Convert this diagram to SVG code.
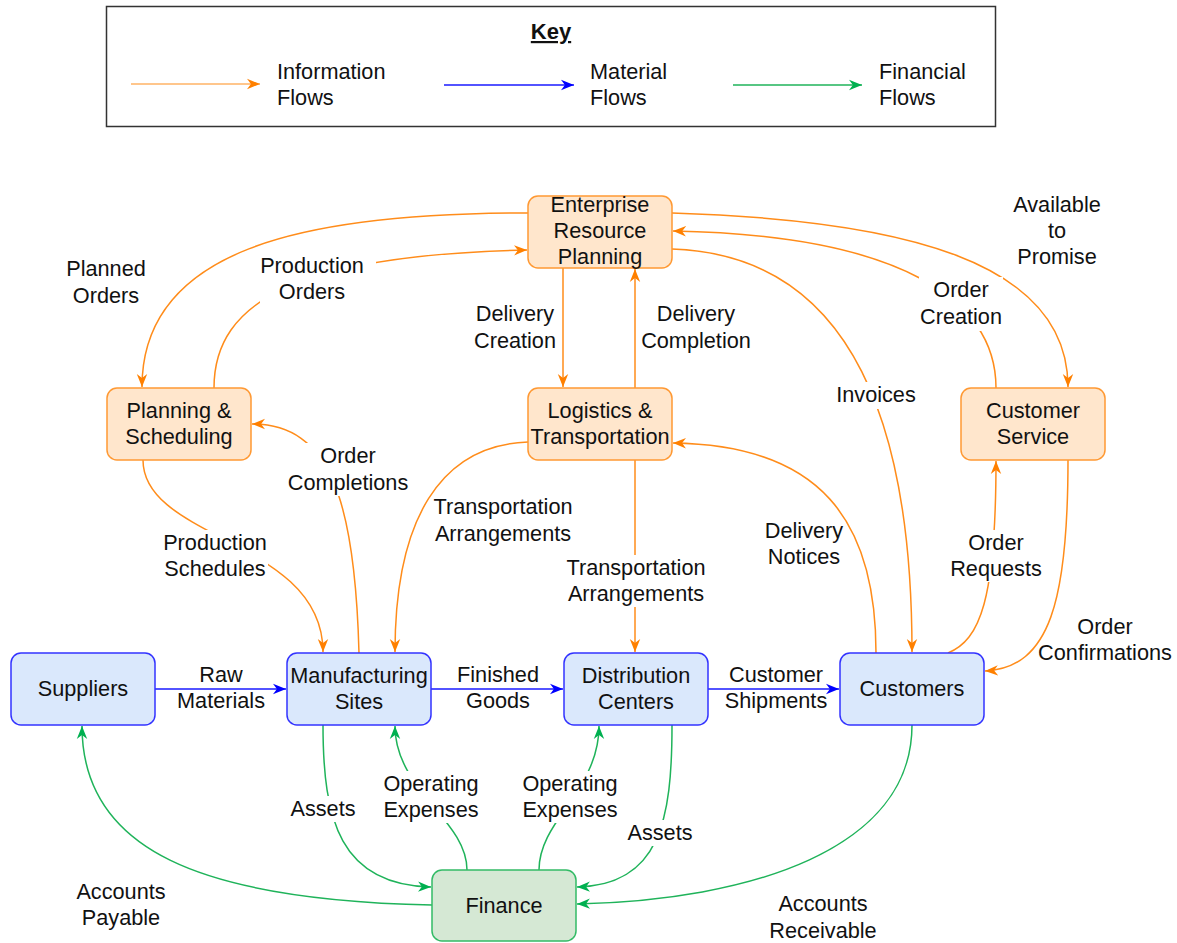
<svg xmlns="http://www.w3.org/2000/svg" width="1177" height="943" viewBox="0 0 1177 943">
  <style>
    text { font-family: "Liberation Sans", Arial, sans-serif; font-size: 21.7px; fill: #111; text-anchor: middle; }
    .lt { text-anchor: start; }
    .key { font-weight: bold; text-decoration: underline; font-size: 22px; }
    .node rect { stroke-width: 1.5; }
    .info rect { fill: #ffe6cc; stroke: #ff9933; }
    .mat rect { fill: #dae8fc; stroke: #3333ff; }
    .fin rect { fill: #d5e8d4; stroke: #33bb66; }
    .e { fill: none; stroke-width: 1.5; }
    .eo { stroke: #ff8c1a; marker-end: url(#ao); }
    .eb { stroke: #1a1aff; marker-end: url(#ab); }
    .eg { stroke: #1fb35a; marker-end: url(#ag); }
    .bg { fill: #fff; }
  </style>
  <defs>
    <marker id="ao" viewBox="0 0 10 10" refX="10" refY="5" markerWidth="13" markerHeight="13" markerUnits="userSpaceOnUse" orient="auto">
      <path d="M0,1 L10,5 L0,9 L3,5 z" fill="#ff8000"/>
    </marker>
    <marker id="ab" viewBox="0 0 10 10" refX="10" refY="5" markerWidth="13" markerHeight="13" markerUnits="userSpaceOnUse" orient="auto">
      <path d="M0,1 L10,5 L0,9 L3,5 z" fill="#0000ff"/>
    </marker>
    <marker id="ag" viewBox="0 0 10 10" refX="10" refY="5" markerWidth="13" markerHeight="13" markerUnits="userSpaceOnUse" orient="auto">
      <path d="M0,1 L10,5 L0,9 L3,5 z" fill="#00b050"/>
    </marker>
  </defs>

  <rect width="1177" height="943" fill="#fff"/>

  <!-- Legend -->
  <g id="legend">
    <rect x="106.5" y="6.5" width="889" height="120" fill="#fff" stroke="#333" stroke-width="1.5"/>
    <text class="key" x="551" y="39">Key</text>
    <line class="e" x1="131" y1="84" x2="260" y2="84" stroke="#ffb366" marker-end="url(#ao)"/>
    <text class="lt" x="277" y="79">Information</text>
    <text class="lt" x="277" y="105">Flows</text>
    <line class="e" x1="444" y1="85" x2="574" y2="85" stroke="#1a1aff" marker-end="url(#ab)"/>
    <text class="lt" x="590" y="79">Material</text>
    <text class="lt" x="590" y="105">Flows</text>
    <line class="e" x1="733" y1="85" x2="862" y2="85" stroke="#1fb35a" marker-end="url(#ag)"/>
    <text class="lt" x="879" y="79">Financial</text>
    <text class="lt" x="879" y="105">Flows</text>
  </g>

  <!-- Connectors -->
  <g id="connectors">
    <!-- information flows -->
    <path class="e eo" d="M528,213 C300,213 142,250 142,387"/>
    <path class="e eo" d="M214,388 C214,300 300,255 527,250"/>
    <path class="e eo" d="M563,268 L563,387"/>
    <path class="e eo" d="M635,388 L635,269"/>
    <path class="e eo" d="M672,213 C900,220 1068,260 1068,387"/>
    <path class="e eo" d="M996,388 C996,300 900,235 673,231"/>
    <path class="e eo" d="M672,249 C850,255 912,420 912,652"/>
    <path class="e eo" d="M143,460 C143,540 323,540 323,652"/>
    <path class="e eo" d="M359,653 C355,500 330,424 252,424"/>
    <path class="e eo" d="M528,442 C440,445 395,520 395,652"/>
    <path class="e eo" d="M635,460 L635,652"/>
    <path class="e eo" d="M876,653 C876,520 820,445 673,443"/>
    <path class="e eo" d="M948,653 C980,640 996,600 996,461"/>
    <path class="e eo" d="M1068,460 C1068,600 1050,668 985,671"/>
    <!-- material flows -->
    <path class="e eb" d="M155,689 L286,689"/>
    <path class="e eb" d="M431,689 L563,689"/>
    <path class="e eb" d="M708,689 L839,689"/>
    <!-- financial flows -->
    <path class="e eg" d="M432,905 C200,900 82,850 82,726"/>
    <path class="e eg" d="M323,725 C323,820 340,885 431,887"/>
    <path class="e eg" d="M467,870 C467,820 395,790 395,726"/>
    <path class="e eg" d="M539,870 C539,820 599,790 599,726"/>
    <path class="e eg" d="M672,725 C672,820 660,885 577,887"/>
    <path class="e eg" d="M912,725 C912,850 750,900 577,904"/>
  </g>

  <!-- Connector labels -->
  <g id="labels">
    <text x="106" y="276">Planned</text>
    <text x="106" y="303">Orders</text>

    <rect class="bg" x="260" y="254" width="116" height="51"/>
    <text x="312" y="273">Production</text>
    <text x="312" y="299">Orders</text>

    <text x="515" y="321">Delivery</text>
    <text x="515" y="348">Creation</text>

    <text x="696" y="321">Delivery</text>
    <text x="696" y="348">Completion</text>

    <text x="1057" y="212">Available</text>
    <text x="1057" y="238">to</text>
    <text x="1057" y="264">Promise</text>

    <rect class="bg" x="919" y="277" width="84" height="54"/>
    <text x="961" y="297">Order</text>
    <text x="961" y="324">Creation</text>

    <rect class="bg" x="836" y="382" width="81" height="27"/>
    <text x="876" y="402">Invoices</text>

    <rect class="bg" x="288" y="443" width="121" height="53"/>
    <text x="348" y="463">Order</text>
    <text x="348" y="490">Completions</text>

    <text x="503" y="514">Transportation</text>
    <text x="503" y="541">Arrangements</text>

    <rect class="bg" x="565" y="555" width="142" height="52"/>
    <text x="636" y="575">Transportation</text>
    <text x="636" y="601">Arrangements</text>

    <text x="804" y="538">Delivery</text>
    <text x="804" y="564">Notices</text>

    <rect class="bg" x="949" y="530" width="94" height="52"/>
    <text x="996" y="550">Order</text>
    <text x="996" y="576">Requests</text>

    <text x="1105" y="634">Order</text>
    <text x="1105" y="660">Confirmations</text>

    <rect class="bg" x="162" y="530" width="106" height="52"/>
    <text x="215" y="550">Production</text>
    <text x="215" y="576">Schedules</text>

    <text x="221" y="682">Raw</text>
    <text x="221" y="708">Materials</text>

    <text x="498" y="682">Finished</text>
    <text x="498" y="708">Goods</text>

    <text x="776" y="682">Customer</text>
    <text x="776" y="708">Shipments</text>

    <rect class="bg" x="289" y="796" width="68" height="26"/>
    <text x="323" y="816">Assets</text>

    <rect class="bg" x="382" y="771" width="98" height="52"/>
    <text x="431" y="791">Operating</text>
    <text x="431" y="817">Expenses</text>

    <rect class="bg" x="521" y="771" width="98" height="52"/>
    <text x="570" y="791">Operating</text>
    <text x="570" y="817">Expenses</text>

    <rect class="bg" x="626" y="820" width="68" height="26"/>
    <text x="660" y="840">Assets</text>

    <text x="121" y="899">Accounts</text>
    <text x="121" y="925">Payable</text>

    <text x="823" y="911">Accounts</text>
    <text x="823" y="938">Receivable</text>
  </g>

  <!-- Nodes -->
  <g id="erp" class="node info">
    <rect x="528" y="196" width="144" height="72" rx="10"/>
    <text x="600" y="212">Enterprise</text>
    <text x="600" y="238">Resource</text>
    <text x="600" y="264">Planning</text>
  </g>
  <g id="planning" class="node info">
    <rect x="107" y="388" width="144" height="72" rx="10"/>
    <text x="179" y="418">Planning &amp;</text>
    <text x="179" y="444">Scheduling</text>
  </g>
  <g id="logistics" class="node info">
    <rect x="528" y="388" width="144" height="72" rx="10"/>
    <text x="600" y="418">Logistics &amp;</text>
    <text x="600" y="444">Transportation</text>
  </g>
  <g id="customer-service" class="node info">
    <rect x="961" y="388" width="144" height="72" rx="10"/>
    <text x="1033" y="418">Customer</text>
    <text x="1033" y="444">Service</text>
  </g>
  <g id="suppliers" class="node mat">
    <rect x="11" y="653" width="144" height="72" rx="10"/>
    <text x="83" y="696">Suppliers</text>
  </g>
  <g id="manufacturing" class="node mat">
    <rect x="287" y="653" width="144" height="72" rx="10"/>
    <text x="359" y="683">Manufacturing</text>
    <text x="359" y="709">Sites</text>
  </g>
  <g id="distribution" class="node mat">
    <rect x="564" y="653" width="144" height="72" rx="10"/>
    <text x="636" y="683">Distribution</text>
    <text x="636" y="709">Centers</text>
  </g>
  <g id="customers" class="node mat">
    <rect x="840" y="653" width="144" height="72" rx="10"/>
    <text x="912" y="696">Customers</text>
  </g>
  <g id="finance" class="node fin">
    <rect x="432" y="870" width="144" height="71" rx="10"/>
    <text x="504" y="913">Finance</text>
  </g>
</svg>
